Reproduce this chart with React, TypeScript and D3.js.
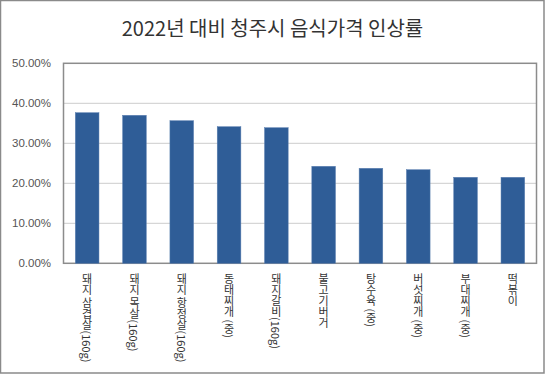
import React from "react";
import * as d3 from "d3";

const title = "2022년 대비 청주시 음식가격 인상률";
const categories = [
  "돼지 삼겹살(160g)",
  "돼지 목살(160g)",
  "돼지 항정살(160g)",
  "동태찌개 (중)",
  "돼지갈비(160g)",
  "불고기버거",
  "탕수육 (중)",
  "버섯찌개 (중)",
  "부대찌개 (중)",
  "떡볶이",
];
const values = [0.3765, 0.37, 0.3565, 0.3415, 0.339, 0.2425, 0.2375, 0.234, 0.215, 0.215];
const yTicks = [0, 0.1, 0.2, 0.3, 0.4, 0.5];

const W = 545;
const H = 374;
const plot = { left: 63.5, right: 536.5, top: 63.3, bottom: 263.3 };

export default function App() {
  const x = d3
    .scaleBand<string>()
    .domain(categories)
    .range([plot.left, plot.right])
    .paddingInner(0.5)
    .paddingOuter(0.25);
  const y = d3.scaleLinear().domain([0, 0.5]).range([plot.bottom, plot.top]);
  const fmt = d3.format(".2%");

  return (
    <svg
      width={W}
      height={H}
      style={{ position: "absolute", left: 0, top: 0, background: "#fff" }}
      fontFamily="'Noto Sans CJK KR', 'Noto Sans', sans-serif"
    >
      <rect x={0.5} y={0.5} width={W - 1.5} height={H - 1.5} fill="#fff" stroke="#8a8a8a" strokeWidth={1.5} />
      <text x={W / 2} y={36} textAnchor="middle" fontSize={20} fill="#333">
        {title}
      </text>
      {yTicks.map((t) => (
        <g key={t}>
          {t > 0 && t < 0.5 && (
            <line
              x1={plot.left}
              x2={plot.right}
              y1={y(t)}
              y2={y(t)}
              stroke="#999"
              strokeWidth={1}
              strokeDasharray="1,1"
            />
          )}
          <text
            x={51}
            y={y(t)}
            textAnchor="end"
            dominantBaseline="central"
            fontSize={11.5}
            fill="#555"
            fontFamily="'Liberation Sans', Arial, sans-serif"
          >
            {fmt(t)}
          </text>
        </g>
      ))}
      <rect
        x={plot.left}
        y={plot.top}
        width={plot.right - plot.left}
        height={plot.bottom - plot.top}
        fill="none"
        stroke="#8c8c8c"
        strokeWidth={1.5}
      />
      {categories.map((c, i) => (
        <rect
          key={c}
          x={x(c)!}
          y={y(values[i])}
          width={x.bandwidth()}
          height={plot.bottom - y(values[i])}
          fill="#2f5d97"
          stroke="#5a7fb0"
          strokeWidth={0.5}
        />
      ))}
      {categories.map((c) => (
        <text
          key={c + "l"}
          x={x(c)! + x.bandwidth() / 2}
          y={273}
          fontSize={11}
          fill="#333"
          style={{ writingMode: "vertical-rl" }}
        >
          {c}
        </text>
      ))}
    </svg>
  );
}
